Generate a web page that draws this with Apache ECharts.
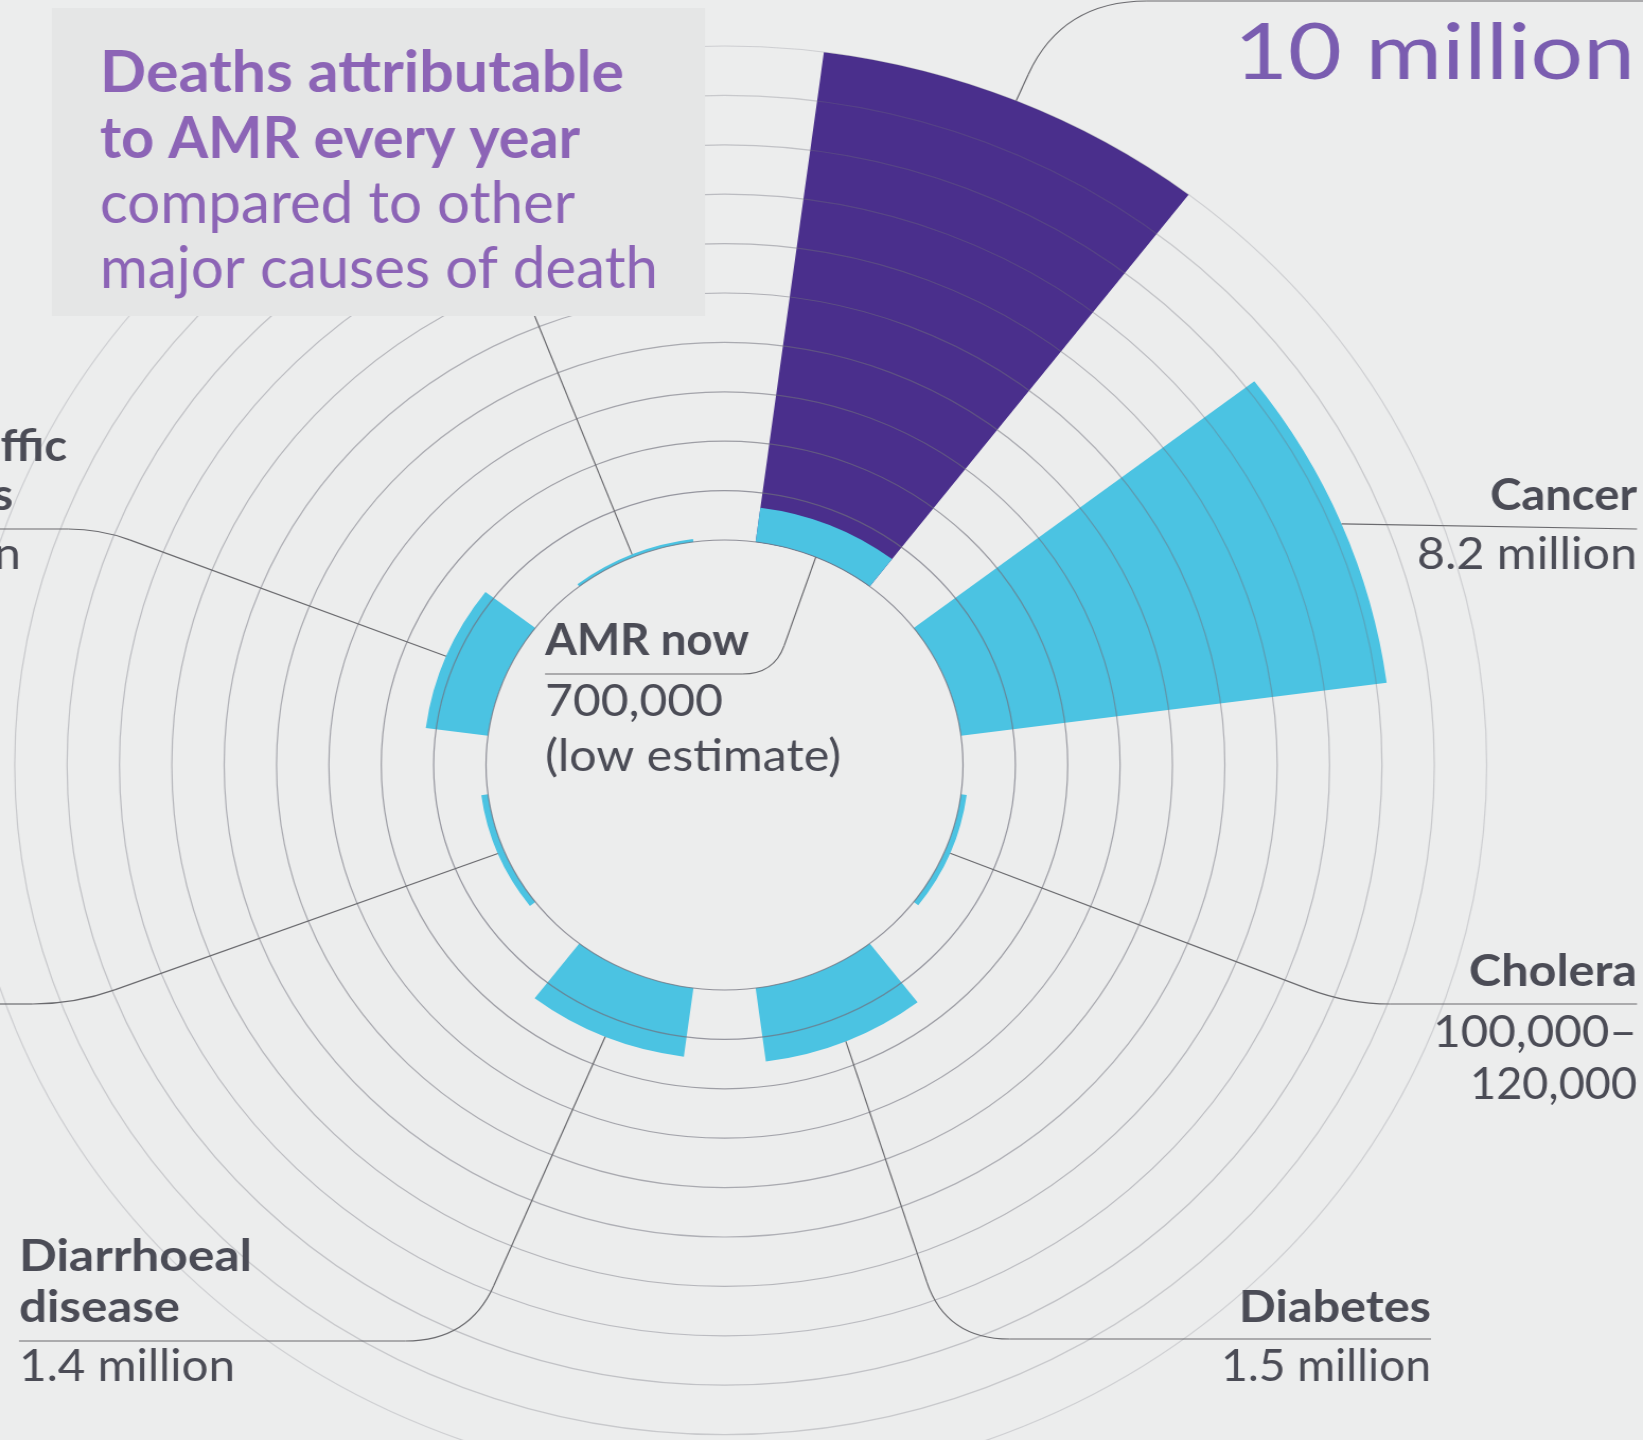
<!DOCTYPE html>
<html><head><meta charset="utf-8">
<script src="https://cdn.jsdelivr.net/npm/echarts@6/dist/echarts.min.js"></script>
<style>
html,body{margin:0;padding:0;background:#ECEDED;overflow:hidden;width:1643px;height:1440px}
#chart{width:1550px;height:1440px;transform:scaleX(1.06);transform-origin:0 0;}
</style></head>
<body><div id="chart"></div>
<script>
// ---- data (deaths per year, millions) ----
const categories = ['AMR', 'Cancer', 'Cholera', 'Diabetes', 'Diarrhoeal disease', 'Measles', 'Road traffic accidents', 'Tetanus'];
const deathsNow  = [0.7, 8.2, 0.11, 1.5, 1.4, 0.13, 1.2, 0.06];
const amrIn2050  = [10, null, null, null, null, null, null, null];
const ringMin = 0, ringMax = 10, ringStep = 1;

// title / label strings
const titleLines = ['Deaths attributable', 'to AMR every year', 'compared to other', 'major causes of death'];
const labelTexts = {
  amr2050: '10 million',
  cancer: ['Cancer', '8.2 million'],
  cholera: ['Cholera', '100,000–', '120,000'],
  diabetes: ['Diabetes', '1.5 million'],
  diarrhoea: ['Diarrhoeal', 'disease', '1.4 million'],
  amrNow: ['AMR now', '700,000', '(low estimate)'],
  road: ['Road traffic', 'accidents', '1.2 million']
};

// ---- layout ----
const SX = 1.06;                 // horizontal stretch of the page
const fx = v => v / SX;          // reference x -> chart x
const CX = fx(724.5), CY = 765, R0 = 225, R1 = 719;
const FONT = 'Lato, "Open Sans", sans-serif';
const PURPLE_T = '#8C64B6', LABEL = '#4B4C56';

const ringColors = [];
for (let i = 0; i <= 10; i++) ringColors.push('rgba(112,112,124,' + (0.74 - i * 0.05).toFixed(3) + ')');

const chart = echarts.init(document.getElementById('chart'), null, {renderer: 'canvas'});
chart.setOption({
  backgroundColor: '#ECEDED',
  animation: false,
  polar: {center: [CX, CY], radius: [R0, R1]},
  angleAxis: {
    type: 'category', data: categories, startAngle: 90, clockwise: true,
    axisLine: {show: false}, axisTick: {show: false}, axisLabel: {show: false}, splitLine: {show: false}
  },
  radiusAxis: {
    type: 'value', min: ringMin, max: ringMax, interval: ringStep, z: 5,
    axisLine: {show: false}, axisTick: {show: false}, axisLabel: {show: false},
    splitLine: {show: true, lineStyle: {width: 1.2, color: ringColors}}
  },
  series: [
    {type: 'bar', coordinateSystem: 'polar', name: 'AMR in 2050', data: amrIn2050,
     barCategoryGap: '33.3%', barGap: '-100%', itemStyle: {color: '#4A2F8C'}, z: 2},
    {type: 'bar', coordinateSystem: 'polar', name: 'Deaths now', data: deathsNow,
     barCategoryGap: '33.3%', barGap: '-100%', itemStyle: {color: '#4BC3E2'}, z: 2}
  ]
});

// ---- annotation helpers ----
const mctx = document.createElement('canvas').getContext('2d');
function measure(str, weight, size) {
  mctx.font = weight + ' ' + size + 'px ' + FONT;
  return mctx.measureText(str).width;
}
const scaleMemo = {};
function textEl(str, xFull, y, align, weight, size, widthFull, color, scaleRef) {
  let s = 1;
  if (widthFull) s = fx(widthFull) / measure(str, weight, size);
  else if (scaleRef) s = scaleMemo[scaleRef] || 1;
  scaleMemo[str] = s;
  return {
    type: 'text', x: fx(xFull), y: y, scaleX: s, z: 101,
    style: {text: str, x: 0, y: 0, fill: color || LABEL, fontSize: size, fontWeight: weight, fontFamily: FONT,
            align: align, textAlign: align, verticalAlign: 'middle', textVerticalAlign: 'middle'}
  };
}
function anchor(val, cat) {
  let p = null;
  try { p = chart.convertToPixel({polarIndex: 0}, [val, cat]); } catch (e) { p = null; }
  if (!p) p = chart.convertToPixel({seriesIndex: 1}, [val, cat]);
  return p;
}
const LSTYLE = {fill: null, stroke: '#6a6a6e', lineWidth: 1.2};
function leaderEls(p0, corner, end, r) {
  const els = [];
  const e = [fx(end[0]), end[1]];
  if (!corner) {
    els.push({type: 'line', z: 50, silent: true, shape: {x1: p0[0], y1: p0[1], x2: e[0], y2: e[1]}, style: LSTYLE});
    return els;
  }
  const c = [fx(corner[0]), corner[1]];
  const d1 = Math.hypot(p0[0] - c[0], p0[1] - c[1]), d2 = Math.hypot(e[0] - c[0], e[1] - c[1]);
  const a = [c[0] + (p0[0] - c[0]) / d1 * r, c[1] + (p0[1] - c[1]) / d1 * r];
  const b = [c[0] + (e[0] - c[0]) / d2 * r, c[1] + (e[1] - c[1]) / d2 * r];
  els.push({type: 'line', z: 50, silent: true, shape: {x1: p0[0], y1: p0[1], x2: a[0], y2: a[1]}, style: LSTYLE});
  els.push({type: 'bezierCurve', z: 50, silent: true,
            shape: {x1: a[0], y1: a[1], cpx1: c[0], cpy1: c[1], x2: b[0], y2: b[1]}, style: LSTYLE});
  els.push({type: 'line', z: 50, silent: true, shape: {x1: b[0], y1: b[1], x2: e[0], y2: e[1]}, style: LSTYLE});
  return els;
}

const leaders = [
  {cat: 0, val: amrIn2050[0], corner: [1062, 1], end: [1643, 1], r: 80},
  {cat: 0, val: 0, corner: [774, 674], end: [545, 674], r: 30},
  {cat: 1, val: deathsNow[1], corner: null, end: [1637, 529]},
  {cat: 2, val: deathsNow[2], corner: [1348, 1004], end: [1637, 1004], r: 40},
  {cat: 3, val: deathsNow[3], corner: [946, 1339], end: [1431, 1339], r: 60},
  {cat: 4, val: deathsNow[4], corner: [469, 1341], end: [19, 1341], r: 60},
  {cat: 5, val: deathsNow[5], corner: [75, 1004], end: [0, 1004], r: 40},
  {cat: 6, val: deathsNow[6], corner: [100, 529], end: [0, 529], r: 30},
  {cat: 7, val: deathsNow[7], corner: null, end: [520, 280]}
];

const graphics = [];
leaders.forEach(l => {
  const p0 = anchor(l.val, l.cat);
  if (p0) leaderEls(p0, l.corner, l.end, l.r).forEach(g => graphics.push(g));
});

// title box
graphics.push({type: 'rect', z: 100, shape: {x: fx(52), y: 8, width: fx(705) - fx(52), height: 308}, style: {fill: '#E5E6E6'}});
graphics.push(textEl(titleLines[0], 100, 73, 'left', 700, 58, 524, PURPLE_T));
graphics.push(textEl(titleLines[1], 100, 139, 'left', 700, 58, 480, PURPLE_T));
graphics.push(textEl(titleLines[2], 100, 204, 'left', 400, 58, 475, PURPLE_T));
graphics.push(textEl(titleLines[3], 100, 269, 'left', 400, 58, 558, PURPLE_T));

graphics.push(textEl(labelTexts.amr2050, 1635, 54, 'right', 400, 78, 401, '#7A5DB0'));
graphics.push(textEl(labelTexts.cancer[0], 1637, 496, 'right', 700, 44, 147));
graphics.push(textEl(labelTexts.cancer[1], 1637, 555, 'right', 400, 44, 220));
graphics.push(textEl(labelTexts.cholera[0], 1637, 972, 'right', 700, 44, 168));
graphics.push(textEl(labelTexts.cholera[1], 1637, 1033, 'right', 400, 44, 204));
graphics.push(textEl(labelTexts.cholera[2], 1637, 1085, 'right', 400, 44, 167));
graphics.push(textEl(labelTexts.diabetes[0], 1431, 1308, 'right', 700, 44, 192));
graphics.push(textEl(labelTexts.diabetes[1], 1431, 1367, 'right', 400, 44, 210));
graphics.push(textEl(labelTexts.diarrhoea[0], 19, 1257, 'left', 700, 44, 233));
graphics.push(textEl(labelTexts.diarrhoea[1], 19, 1308, 'left', 700, 44, 161));
graphics.push(textEl(labelTexts.diarrhoea[2], 19, 1367, 'left', 400, 44, 216));
graphics.push(textEl(labelTexts.amrNow[0], 545, 641, 'left', 700, 44, 204));
graphics.push(textEl(labelTexts.amrNow[1], 545, 702, 'left', 400, 44, 178));
graphics.push(textEl(labelTexts.amrNow[2], 545, 757, 'left', 400, 44, 296));
graphics.push(textEl(labelTexts.road[0], 67, 447, 'right', 700, 44, null, null, 'Cancer'));
graphics.push(textEl(labelTexts.road[1], 13, 496, 'right', 700, 44, null, null, 'Cancer'));
graphics.push(textEl(labelTexts.road[2], 21, 555, 'right', 400, 44, null, null, '8.2 million'));

chart.setOption({graphic: {elements: graphics}});
</script>
</body></html>
